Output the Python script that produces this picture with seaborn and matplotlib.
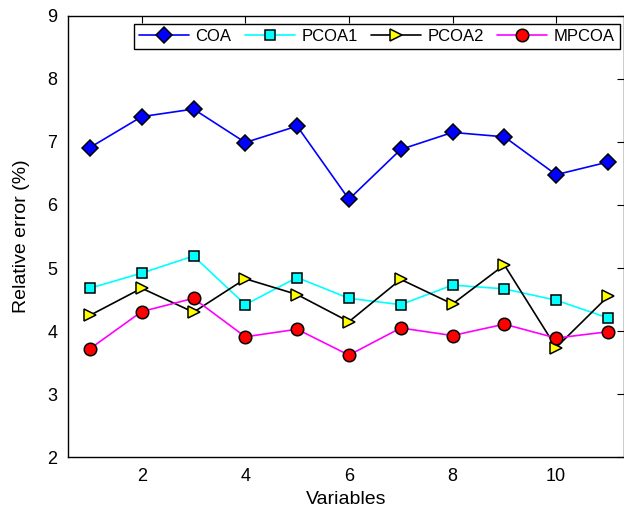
import matplotlib
matplotlib.use("Agg")
import matplotlib.pyplot as plt
import seaborn as sns
import pandas as pd

variables = list(range(1, 12))
coa = [6.91, 7.40, 7.52, 6.99, 7.25, 6.09, 6.88, 7.15, 7.08, 6.48, 6.68]
pcoa1 = [4.68, 4.92, 5.19, 4.42, 4.85, 4.52, 4.42, 4.73, 4.67, 4.49, 4.21]
pcoa2 = [4.25, 4.68, 4.30, 4.83, 4.58, 4.15, 4.82, 4.43, 5.05, 3.74, 4.55]
mpcoa = [3.72, 4.31, 4.52, 3.91, 4.03, 3.62, 4.05, 3.93, 4.11, 3.89, 3.99]
series_names = ["COA", "PCOA1", "PCOA2", "MPCOA"]
xticks = [2, 4, 6, 8, 10]
yticks = [2, 3, 4, 5, 6, 7, 8, 9]

sns.set_theme(style="white")
plt.rcParams['font.family'] = ['Liberation Sans', 'DejaVu Sans']

fig = plt.figure(figsize=(6.24, 5.12), dpi=100)
ax = fig.add_axes([68.3/624, 1-457.3/512, (624-68.3)/624, (457.3-15.7)/512])

styles = [
    dict(color="#0000ff", marker="D", markerfacecolor="#0000ff", markersize=8),
    dict(color="#00ffff", marker="s", markerfacecolor="#00ffff", markersize=7),
    dict(color="black", marker=">", markerfacecolor="#ffff00", markersize=9),
    dict(color="#ff00ff", marker="o", markerfacecolor="#ff0000", markersize=9),
]
for name, vals, st in zip(series_names, [coa, pcoa1, pcoa2, mpcoa], styles):
    df = pd.DataFrame({"Variables": variables, "val": vals})
    sns.lineplot(data=df, x="Variables", y="val", ax=ax, label=name,
                 linewidth=1.2, markeredgecolor="black", markeredgewidth=1.1,
                 **st)

ax.set_xlim(0.583, 11.31)
ax.set_ylim(2, 9)
ax.set_xticks(xticks)
ax.set_yticks(yticks)
ax.tick_params(direction="in", top=True, right=True, length=5, width=0.8,
               labelsize=13, colors="black", pad=8)
for s in ax.spines.values():
    s.set_color("black")
    s.set_linewidth(1.0)
ax.set_xlabel("Variables", fontsize=14, labelpad=4, color="black")
ax.set_ylabel("Relative error (%)", fontsize=14, labelpad=12, color="black")

leg = ax.legend(loc="upper right", bbox_to_anchor=(0.993, 0.981), ncol=4,
                fancybox=False, edgecolor="black", framealpha=1, borderaxespad=0,
                fontsize=12, handlelength=3, columnspacing=0.8, handletextpad=0.4,
                borderpad=0.3)
leg.get_frame().set_linewidth(1.0)
for t in leg.get_texts():
    t.set_color("black")

fig.savefig("out.png", dpi=100)
